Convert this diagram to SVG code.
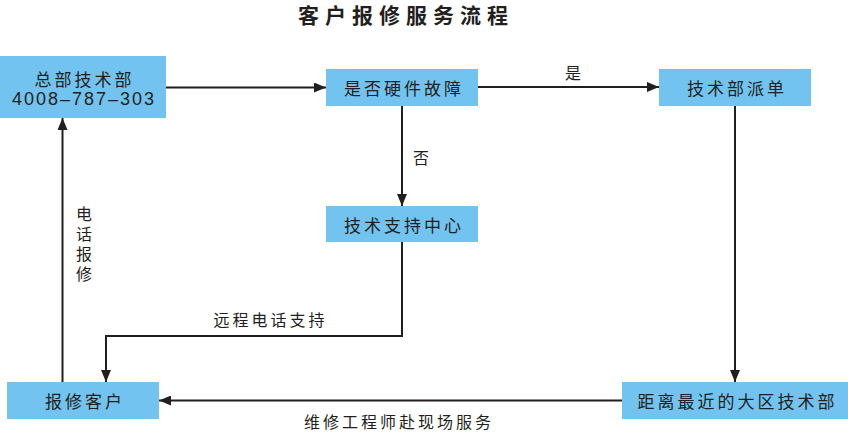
<svg xmlns="http://www.w3.org/2000/svg" width="848" height="432" viewBox="0 0 848 432">
<defs>
<style>
.box{fill:#72C3EF;}
.t{font-family:"Noto Sans CJK SC","Liberation Sans",sans-serif;font-size:17px;fill:#231f20;text-anchor:middle;dominant-baseline:central;letter-spacing:3px;}
.num{font-family:"Liberation Sans","Noto Sans CJK SC",sans-serif;font-size:18px;letter-spacing:2px;}
.lbl{font-family:"Noto Sans CJK SC","Liberation Sans",sans-serif;font-size:16px;fill:#231f20;text-anchor:middle;dominant-baseline:central;letter-spacing:3px;}
.vert{writing-mode:vertical-rl;text-anchor:start;letter-spacing:4px;}
.title{font-family:"Noto Sans CJK SC","Liberation Sans",sans-serif;font-size:21px;font-weight:bold;fill:#231f20;text-anchor:middle;dominant-baseline:central;letter-spacing:6px;}
.ln{fill:none;stroke:#231f20;stroke-width:2;}
</style>
<marker id="ah" viewBox="0 0 12 10" refX="12" refY="5" markerWidth="12" markerHeight="10" markerUnits="userSpaceOnUse" orient="auto">
<path d="M0,0 L12,5 L0,10 Z" fill="#231f20"/>
</marker>
</defs>
<rect width="848" height="432" fill="#ffffff"/>
<text class="title" x="406" y="14">客户报修服务流程</text>
<g id="connectors">
<line class="ln" x1="166" y1="87.5" x2="326" y2="87.5" marker-end="url(#ah)"/>
<line class="ln" x1="478" y1="87" x2="659" y2="87" marker-end="url(#ah)"/>
<line class="ln" x1="402" y1="106" x2="402" y2="206" marker-end="url(#ah)"/>
<line class="ln" x1="735" y1="106" x2="735" y2="382" marker-end="url(#ah)"/>
<polyline class="ln" points="402,242 402,336 106,336 106,382" marker-end="url(#ah)"/>
<line class="ln" x1="62.5" y1="382" x2="62.5" y2="118" marker-end="url(#ah)"/>
<line class="ln" x1="622" y1="400.5" x2="159" y2="400.5" marker-end="url(#ah)"/>
<text class="lbl" x="574.5" y="72">是</text>
<text class="lbl" x="422.5" y="157">否</text>
<text class="lbl vert" x="84" y="206">电话报修</text>
<text class="lbl" x="270.5" y="319">远程电话支持</text>
<text class="lbl" x="399" y="421">维修工程师赴现场服务</text>
</g>
<g id="n1">
<rect class="box" x="0" y="56" width="166" height="62"/>
<text class="t" x="84.5" y="78">总部技术部</text>
<text class="t num" x="84" y="99">4008–787–303</text>
</g>
<g id="n2">
<rect class="box" x="326" y="69" width="152" height="37"/>
<text class="t" x="404" y="87.5">是否硬件故障</text>
</g>
<g id="n3">
<rect class="box" x="659" y="69" width="152" height="37"/>
<text class="t" x="737" y="87.5">技术部派单</text>
</g>
<g id="n4">
<rect class="box" x="326" y="206" width="152" height="36"/>
<text class="t" x="404" y="224">技术支持中心</text>
</g>
<g id="n5">
<rect class="box" x="7" y="382" width="152" height="37"/>
<text class="t" x="85" y="400.5">报修客户</text>
</g>
<g id="n6">
<rect class="box" x="622" y="382" width="226" height="37"/>
<text class="t" x="737.5" y="400.5">距离最近的大区技术部</text>
</g>
</svg>
